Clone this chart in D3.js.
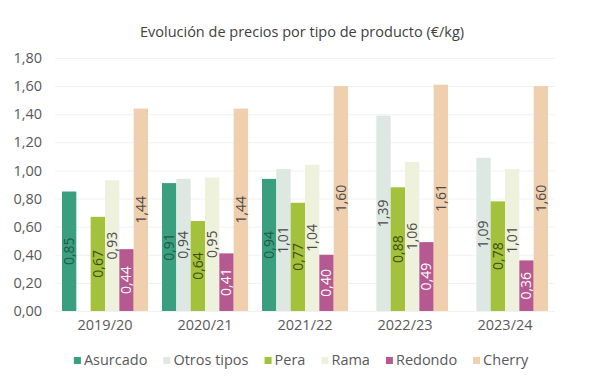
<!DOCTYPE html>
<html>
<head>
<meta charset="utf-8">
<script src="https://cdn.jsdelivr.net/npm/d3@7"></script>
<style>
  body { margin: 0; background: #fff; }
  text { font-family: 'Open Sans', sans-serif; }
</style>
</head>
<body>
<div id="chart"></div>
<script>
const seasons = ['2019/20', '2020/21', '2021/22', '2022/23', '2023/24']
const series = ['Asurcado', 'Otros tipos', 'Pera', 'Rama', 'Redondo', 'Cherry']
const asurcado = [0.85, 0.91, 0.94, null, null]
const otrosTipos = [null, 0.94, 1.01, 1.39, 1.09]
const pera = [0.67, 0.64, 0.77, 0.88, 0.78]
const rama = [0.93, 0.95, 1.04, 1.06, 1.01]
const redondo = [0.44, 0.41, 0.40, 0.49, 0.36]
const cherry = [1.44, 1.44, 1.60, 1.61, 1.60]
const yTicks = [0, 0.2, 0.4, 0.6, 0.8, 1.0, 1.2, 1.4, 1.6, 1.8]

const values = [asurcado, otrosTipos, pera, rama, redondo, cherry]
const colors = ['#3a9f7f', '#dde8e3', '#a3c13a', '#eef1dc', '#b65990', '#f0cfae']
const labelColors = ['#1f5a46', '#4a4a4a', '#3f4d10', '#4a4a4a', '#ffffff', '#4a4a4a']

const width = 603
const height = 377
const margin = { top: 58, right: 48, bottom: 66, left: 55 }

const svg = d3.select('#chart').append('svg')
  .attr('width', width)
  .attr('height', height)

const fmt = v => d3.format('.2f')(v).replace('.', ',')

const x = d3.scaleBand()
  .domain(seasons)
  .range([margin.left, width - margin.right])
  .paddingInner(0.14)
  .paddingOuter(0.07)

const xs = d3.scaleBand()
  .domain(series)
  .range([0, x.bandwidth()])

const y = d3.scaleLinear()
  .domain([0, 1.8])
  .range([height - margin.bottom, margin.top])

// title
svg.append('text')
  .attr('x', 302)
  .attr('y', 37)
  .attr('text-anchor', 'middle')
  .attr('font-size', '14.5px')
  .attr('fill', '#404040')
  .text('Evolución de precios por tipo de producto (€/kg)')

// gridlines + y labels
const yAxis = svg.append('g')
  .attr('transform', `translate(${margin.left},0)`)
  .call(d3.axisLeft(y).tickValues(yTicks).tickFormat(fmt)
    .tickSize(-(width - margin.left - margin.right)).tickPadding(13))
yAxis.select('.domain').remove()
yAxis.selectAll('.tick line').attr('stroke', '#f1f1f1')
yAxis.selectAll('.tick text')
  .attr('font-size', '14.5px')
  .attr('fill', '#595959')
  .attr('font-family', "'Open Sans', sans-serif")

// x labels
const xAxis = svg.append('g')
  .attr('transform', `translate(0,${height - margin.bottom})`)
  .call(d3.axisBottom(x).tickSize(0).tickPadding(9))
xAxis.select('.domain').remove()
xAxis.selectAll('.tick text')
  .attr('font-size', '14.5px')
  .attr('fill', '#595959')
  .attr('font-family', "'Open Sans', sans-serif")

// bars
const bars = []
seasons.forEach((s, i) => {
  series.forEach((name, j) => {
    const v = values[j][i]
    if (v != null) bars.push({ season: s, name, j, v })
  })
})

const barGroup = svg.append('g')
barGroup.selectAll('rect')
  .data(bars)
  .join('rect')
  .attr('x', d => x(d.season) + xs(d.name))
  .attr('width', xs.bandwidth())
  .attr('y', d => y(d.v))
  .attr('height', d => y(0) - y(d.v))
  .attr('fill', d => colors[d.j])

barGroup.selectAll('text')
  .data(bars)
  .join('text')
  .attr('transform', d => {
    const cx = x(d.season) + xs(d.name) + xs.bandwidth() / 2
    const cy = (y(d.v) + y(0)) / 2
    return `translate(${cx},${cy}) rotate(-90)`
  })
  .attr('text-anchor', 'middle')
  .attr('dy', '0.35em')
  .attr('font-size', '14px')
  .attr('fill', d => labelColors[d.j])
  .text(d => fmt(d.v))

// legend
const legend = svg.append('g')
const items = legend.selectAll('g')
  .data(series)
  .join('g')
items.append('rect')
  .attr('width', 7)
  .attr('height', 7)
  .attr('y', -8)
  .attr('fill', (d, i) => colors[i])
items.append('text')
  .attr('x', 10)
  .attr('font-size', '14.5px')
  .attr('fill', '#595959')
  .text(d => d)

let offset = 0
items.each(function() {
  const w = this.getBBox().width
  d3.select(this).attr('transform', `translate(${offset},365)`)
  offset += w + 16
})
legend.attr('transform', `translate(${(width - (offset - 16)) / 2},0)`)
</script>
</body>
</html>
